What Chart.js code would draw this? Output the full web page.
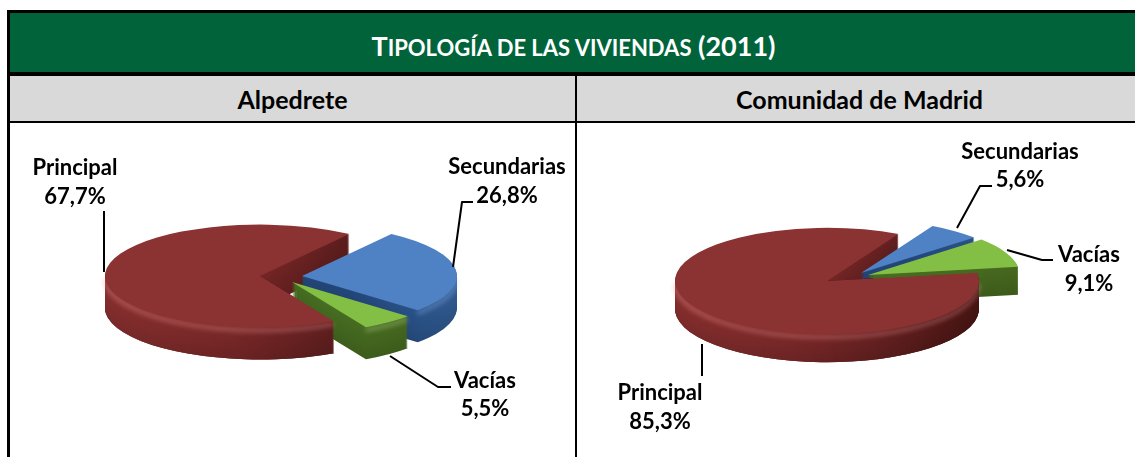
<!DOCTYPE html>
<html lang="es"><head><meta charset="utf-8">
<title>Tipología de las viviendas (2011)</title>
<script src="https://cdn.jsdelivr.net/npm/chart.js@4"></script>
<style>
html,body{margin:0;padding:0;background:#fff;width:1135px;height:457px;overflow:hidden}
body{position:relative;font-family:Lato,sans-serif;font-weight:700;color:#000}
.b{position:absolute;background:#000}
.title{position:absolute;left:12px;top:13px;width:1123px;height:59px;background:#00633a;box-shadow:-2px 0 0 #00633a;color:#fff;text-align:center;line-height:65px;font-size:27px}
.title .s{font-size:22px}
.sub{position:absolute;top:76px;height:45px;background:#d9d9d9;text-align:center;line-height:47px;font-size:25px}
canvas{position:absolute;top:123px}
</style></head><body>
<div class="b" style="left:7px;top:10px;width:1128px;height:3px"></div>
<div class="b" style="left:7px;top:10px;width:3px;height:447px"></div>
<div class="title"><span>T</span><span class="s">IPOLOGÍA DE LAS VIVIENDAS</span> (2011)</div>
<div class="b" style="left:7px;top:72px;width:1128px;height:4px"></div>
<div class="sub" style="left:10px;width:565px">Alpedrete</div>
<div class="sub" style="left:577px;width:558px;text-indent:7px">Comunidad de Madrid</div>
<div class="b" style="left:7px;top:121px;width:1128px;height:2px"></div>
<div class="b" style="left:575px;top:76px;width:2px;height:381px"></div>
<canvas id="a" width="565" height="334" style="left:10px"></canvas>
<canvas id="b" width="558" height="334" style="left:577px"></canvas>
<script>
const categories = ['Principal', 'Secundarias', 'Vacías'];
const alpedreteValues = [67.7, 26.8, 5.5];
const madridValues = [85.3, 5.6, 9.1];

const topColors = ['#8b3232', '#4f81c5', '#84bf45'];
const rimStops = [
  ['#8d3131', '#7c2929', '#642020', '#4c1715'],
  ['#234676', '#24477a', '#2a5288', '#335f98'],
  ['#3f6220', '#446a21', '#476e22', '#47691f']
];
const highlight = ['rgba(255,170,170,.26)', 'rgba(170,205,255,.25)', 'rgba(210,240,170,.25)'];

function pie3d(opts) {
  return {
    id: 'pie3d',
    beforeDatasetsDraw(chart) {
      const ctx = chart.ctx, arcs = chart.getDatasetMeta(0).data;
      const slice = (n) => {
        const a = arcs[n], R = a.outerRadius, [ex, ey] = opts.explode[n];
        const cx = a.x + ex, cy = a.y + ey;
        const place = (dy) => {
          ctx.setTransform(1, 0, 0, 1, 0, 0);
          ctx.translate(cx, cy + dy);
          ctx.scale(1, opts.squash);
          ctx.translate(-a.x, -a.y);
        };
        const wedge = () => {
          ctx.beginPath();
          ctx.moveTo(a.x, a.y);
          ctx.arc(a.x, a.y, R, a.startAngle, a.endAngle);
          ctx.closePath();
        };
        // extruded body, bottom layer first
        const g = ctx.createLinearGradient(a.x - R, 0, a.x + R, 0);
        const box = opts.stops[n];
        rimStops[n].forEach((c, i) => g.addColorStop(box[i], c));
        for (let i = opts.depth; i >= 1; i--) {
          place(i);
          wedge();
          ctx.fillStyle = g;
          ctx.fill();
          ctx.fillStyle = 'rgba(0,0,0,' + (0.14 * i / opts.depth).toFixed(3) + ')';
          ctx.fill();
        }
        // soft lit edge where the top surface rolls into the rim
        const tau = Math.PI * 2;
        for (let k = -1; k <= 1; k++) {
          const s = Math.max(a.startAngle, k * tau), e = Math.min(a.endAngle, k * tau + Math.PI);
          if (e > s) {
            place(3);
            ctx.beginPath();
            ctx.arc(a.x, a.y, R - 0.5, s, e);
            ctx.setTransform(1, 0, 0, 1, 0, 0);
            ctx.strokeStyle = highlight[n];
            ctx.lineWidth = 5;
            ctx.filter = 'blur(2px)';
            ctx.stroke();
            ctx.filter = 'none';
          }
        }
        // top surface, drawn by the library's own arc element
        place(0);
        a.draw(ctx);
        ctx.setTransform(1, 0, 0, 1, 0, 0);
      };

      ctx.save();
      [0, 1, 2].forEach(slice);
      // the near part of the first slice sits in front of the exploded ones
      const a = arcs[0], big = 2000;
      const ex = a.x + Math.cos(a.startAngle) * a.outerRadius * 1.3;
      const ey = a.y + Math.sin(a.startAngle) * a.outerRadius * 1.3 * opts.squash;
      ctx.save();
      ctx.beginPath();
      ctx.moveTo(a.x, a.y);
      ctx.lineTo(ex, ey);
      ctx.lineTo(ex, big);
      ctx.lineTo(-big, big);
      ctx.lineTo(-big, a.y);
      ctx.closePath();
      ctx.clip();
      slice(0);
      ctx.restore();
      ctx.restore();
      return false;
    },
    afterDraw(chart) {
      const ctx = chart.ctx, vals = chart.data.datasets[0].data, o = chart.canvas.offsetLeft, t = chart.canvas.offsetTop;
      ctx.save();
      ctx.strokeStyle = '#000';
      ctx.lineWidth = 2;
      ctx.lineJoin = 'round';
      opts.leaders.forEach(pts => {
        ctx.beginPath();
        pts.forEach(([x, y], i) => i ? ctx.lineTo(x - o, y - t) : ctx.moveTo(x - o, y - t));
        ctx.stroke();
      });
      ctx.fillStyle = '#000';
      ctx.font = '700 ' + opts.font + 'px Lato';
      ctx.textAlign = 'center';
      ctx.textBaseline = 'middle';
      chart.data.labels.forEach((name, i) => {
        const [x, y1, y2] = opts.labelAt[i];
        ctx.fillText(name, x - o, y1 - t);
        ctx.fillText(vals[i].toFixed(1).replace('.', ',') + '%', x - o, y2 - t);
      });
      ctx.restore();
    }
  };
}

function build(id, values, rotation, pad, opts) {
  return new Chart(document.getElementById(id), {
    type: 'pie',
    data: { labels: categories, datasets: [{ data: values, backgroundColor: topColors, borderWidth: 0 }] },
    options: {
      responsive: false, animation: false, rotation, radius: opts.radius,
      layout: { padding: pad },
      events: [],
      plugins: { legend: { display: false }, tooltip: { enabled: false } }
    },
    plugins: [pie3d(opts)]
  });
}

build('a', alpedreteValues, 151.5, { left: 0, right: 65, top: 0, bottom: 28 }, {
  radius: 155, squash: 0.332, depth: 32, font: 22,
  explode: [[0, 0], [42, 0], [32, 6]],
  stops: [[0, .42, .72, .98], [.45, .65, .85, 1], [0, .3, .6, 1]],
  leaders: [
    [[104, 211], [104, 272]],
    [[453, 267], [462, 202], [473, 202]],
    [[390, 356], [438, 387], [451, 387]]
  ],
  labelAt: [[75, 168, 197], [507, 167, 196], [485, 381, 409]]
});

build('b', madridValues, 81, { left: 0, right: 58, top: 0, bottom: 18 }, {
  radius: 152, squash: 0.35, depth: 28, font: 22,
  explode: [[0, 0], [34, -8], [41, -6]],
  stops: [[0, .42, .72, .98], [.45, .65, .85, 1], [0, .3, .6, 1]],
  leaders: [
    [[702, 344], [702, 376]],
    [[957, 228], [980, 186], [992, 186]],
    [[1007, 250], [1042, 260], [1053, 260]]
  ],
  labelAt: [[660, 393, 422], [1020, 152, 180], [1089, 255, 284]]
});
</script>
</body></html>
